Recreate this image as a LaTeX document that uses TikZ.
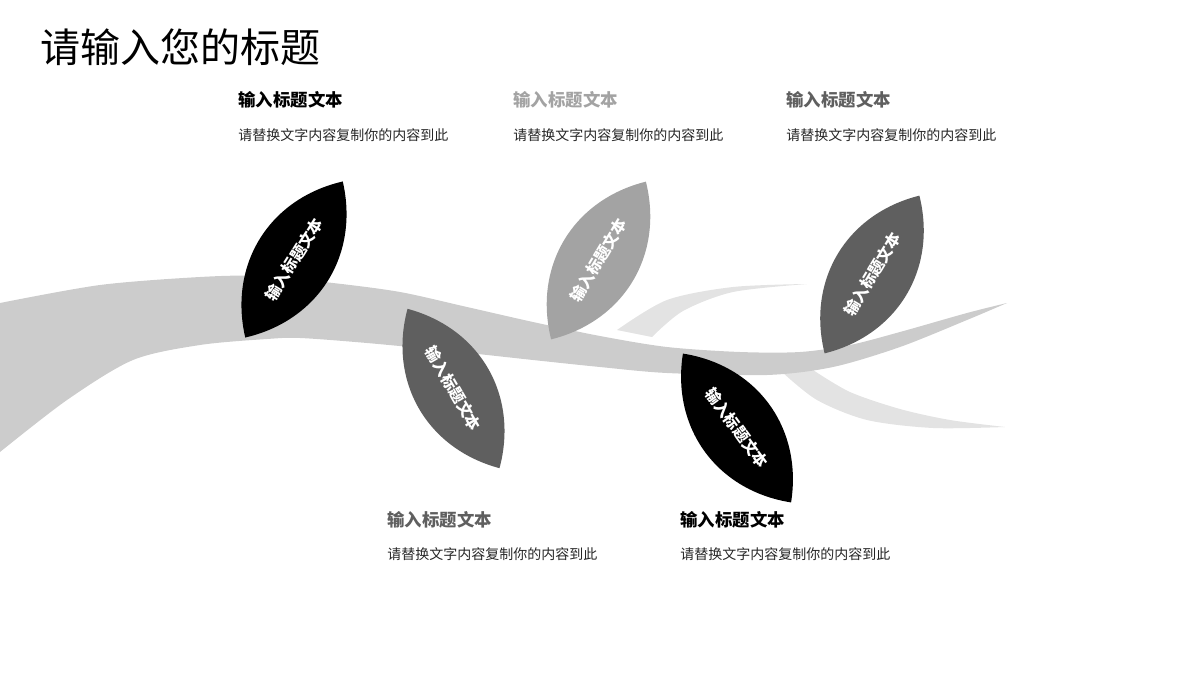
\documentclass[tikz,border=0pt]{standalone}
\usepackage{fontspec}
\setmainfont{Noto Sans CJK SC}
\usetikzlibrary{positioning}
\definecolor{branchgray}{HTML}{CCCCCC}
\definecolor{twiggray}{HTML}{E3E3E3}
\definecolor{leafdark}{HTML}{5F5F5F}
\definecolor{leaflight}{HTML}{A3A3A3}
\definecolor{bodygray}{HTML}{262626}

\begin{document}
\begin{tikzpicture}[
    x=0.5pt, y=-0.5pt,
    title/.style={anchor=west,inner sep=0pt,font=\fontsize{20pt}{24pt}\selectfont},
    head/.style={anchor=west,inner sep=0pt,font=\bfseries\fontsize{8.7pt}{10pt}\selectfont},
    desc/.style={inner sep=0pt,text=bodygray,font=\fontsize{7pt}{8.5pt}\selectfont},
    leaftext/.style={inner sep=0pt,text=white,font=\bfseries\fontsize{7.8pt}{9pt}\selectfont}]
    \useasboundingbox (0,0) rectangle (1200,680);

    \fill[twiggray] plot[smooth] coordinates {(617,330) (667,300) (733,287) (807,284)}
      -- plot[smooth] coordinates {(807,284) (733,292) (683,311) (652,337)} -- cycle;
    \fill[twiggray] plot[smooth] coordinates {(782,372) (817,400) (867,420) (933,428) (1005,427)}
      -- plot[smooth] coordinates {(1005,427) (950,420) (900,409) (850,392) (813,370)} -- cycle;
    \fill[branchgray] plot[smooth] coordinates {(0,303) (100,285) (200,277) (260,276) (333,283)
        (400,292) (467,307) (533,322) (600,336) (667,347) (740,352) (800,352) (850,345)
        (900,332) (967,313) (1007,303)}
      -- plot[smooth] coordinates {(1007,303) (967,320) (900,347) (833,367) (767,375) (667,373)
        (600,367) (533,360) (450,351) (367,343) (300,338) (267,339) (200,345) (133,360)
        (67,400) (0,452)} -- cycle;

    \foreach \cx/\cy/\ang/\col/\nm in {294/259.5/58/black/leafa, 453.5/388.5/-60/leafdark/leafb,
        598.5/260.5/59/leaflight/leafc, 737/428/-54/black/leafd, 872/274.5/59/leafdark/leafe}{
      \fill[\col, shift={(\cx,\cy)}, rotate=\ang]
        (-92,0) to[out=45,in=135,looseness=1.05] (92,0) to[out=-135,in=-45,looseness=1.05] cycle;
      \node[leaftext, rotate=\ang] (\nm) at (\cx,\cy) {输入标题文本};
    }

    \node[title] (title) at (40,47) {请输入您的标题};

    \node[head] (ha) at (238,100) {输入标题文本};
    \node[desc,below=17.5pt of ha.west,anchor=west] (da) {请替换文字内容复制你的内容到此};
    \node[head,text=leaflight] (hc) at (513,100) {输入标题文本};
    \node[desc,below=17.5pt of hc.west,anchor=west] (dc) {请替换文字内容复制你的内容到此};
    \node[head,text=leafdark] (he) at (786,100) {输入标题文本};
    \node[desc,below=17.5pt of he.west,anchor=west] (de) {请替换文字内容复制你的内容到此};
    \node[head,text=leafdark] (hb) at (387,520) {输入标题文本};
    \node[desc,below=17pt of hb.west,anchor=west] (db) {请替换文字内容复制你的内容到此};
    \node[head] (hd) at (680,520) {输入标题文本};
    \node[desc,below=17pt of hd.west,anchor=west] (dd) {请替换文字内容复制你的内容到此};
\end{tikzpicture}
\end{document}
